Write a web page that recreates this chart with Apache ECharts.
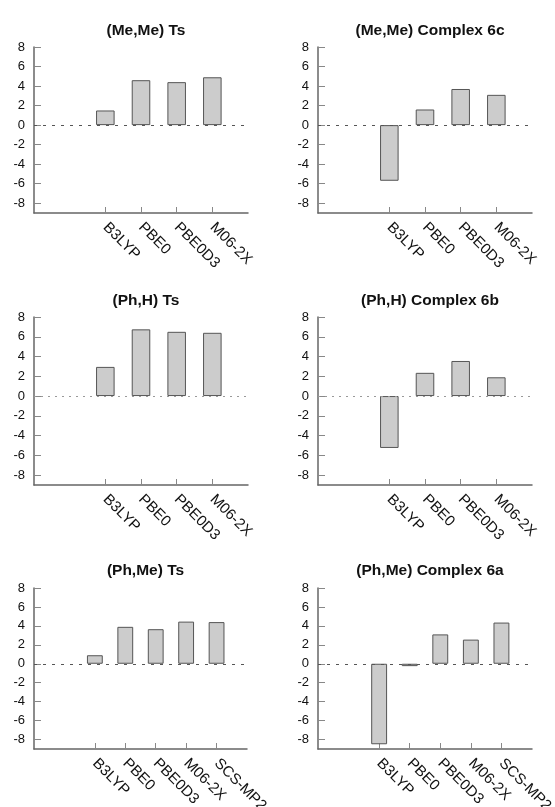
<!DOCTYPE html>
<html>
<head>
<meta charset="utf-8">
<script src="https://cdn.jsdelivr.net/npm/echarts@6/dist/echarts.min.js"></script>
<style>
html,body{margin:0;padding:0;background:#fff;}
#c{width:555px;height:807px;}
</style>
</head>
<body>
<div id="c"></div>
<script>
// Categories (empty slots are padding positions on the axis)
const catsShort = ['', '', 'B3LYP', 'PBE0', 'PBE0D3', 'M06-2X', ''];
const catsLong = ['', '', 'B3LYP', 'PBE0', 'PBE0D3', 'M06-2X', 'SCS-MP2', ''];
const titles = ['(Me,Me) Ts', '(Me,Me) Complex 6c', '(Ph,H) Ts', '(Ph,H) Complex 6b', '(Ph,Me) Ts', '(Ph,Me) Complex 6a'];
// Series values
const meMeTs = [null, null, 1.5, 4.6, 4.4, 4.9, null];
const meMe6c = [null, null, -5.7, 1.6, 3.7, 3.1, null];
const phHTs = [null, null, 2.95, 6.75, 6.5, 6.4, null];
const phH6b = [null, null, -5.25, 2.35, 3.55, 1.9, null];
const phMeTs = [null, null, 0.9, 3.9, 3.65, 4.45, 4.4, null];
const phMe6a = [null, null, -8.5, -0.25, 3.1, 2.55, 4.35, null];
// Tick labels
const yTicks = [-8, -6, -4, -2, 0, 2, 4, 6, 8];

const panels = [
  {cats: catsShort, data: meMeTs, left: 34, top: 47, width: 214, height: 166, ty: 26},
  {cats: catsShort, data: meMe6c, left: 318, top: 47, width: 214, height: 166, ty: 26},
  {cats: catsShort, data: phHTs, left: 34, top: 317, width: 214, height: 168, ty: 296},
  {cats: catsShort, data: phH6b, left: 318, top: 317, width: 214, height: 168, ty: 296},
  {cats: catsLong, data: phMeTs, left: 34, top: 588, width: 213, height: 161, ty: 566},
  {cats: catsLong, data: phMe6a, left: 318, top: 588, width: 214, height: 161, ty: 566}
];
const zeroStyles = [
  {color: '#555', type: [3, 6]}, {color: '#555', type: [3, 6]},
  {color: '#999', type: [2, 5]}, {color: '#999', type: [2, 5]},
  {color: '#555', type: [3, 6]}, {color: '#555', type: [3, 6]}
];
const font = 'Liberation Sans, Arial, Helvetica, sans-serif';

const option = {
  animation: false,
  backgroundColor: '#fff',
  title: panels.map((p, i) => ({
    text: titles[i],
    left: p.left + p.width / 2,
    top: p.ty,
    textAlign: 'center',
    textVerticalAlign: 'middle',
    textStyle: {fontFamily: font, fontSize: 15.5, fontWeight: 'bold', color: '#111'}
  })),
  grid: panels.map(p => ({left: p.left, top: p.top, width: p.width, height: p.height,
    containLabel: false, outerBoundsMode: 'none'})),
  xAxis: panels.map((p, i) => ({
    type: 'category',
    gridIndex: i,
    data: p.cats,
    boundaryGap: false,
    axisLine: {onZero: false, lineStyle: {color: '#666', width: 1.5}},
    axisTick: {inside: true, length: 6, lineStyle: {color: '#888', width: 1},
      interval: (idx, val) => val !== ''},
    axisLabel: {rotate: -45, margin: 12, fontFamily: font, fontSize: 15, color: '#111',
      interval: (idx, val) => val !== ''},
    splitLine: {show: false}
  })),
  yAxis: panels.map((p, i) => ({
    type: 'value',
    gridIndex: i,
    min: -9,
    max: 8,
    axisLine: {show: true, lineStyle: {color: '#666', width: 1.5}},
    axisTick: {show: true, inside: true, length: 7, customValues: yTicks, lineStyle: {color: '#888', width: 1}},
    axisLabel: {customValues: yTicks, margin: 9, fontFamily: font, fontSize: 13, color: '#111'},
    splitLine: {show: false}
  })),
  series: panels.map((p, i) => ({
    type: 'bar',
    xAxisIndex: i,
    yAxisIndex: i,
    data: p.data,
    barWidth: '52%',
    itemStyle: {color: '#cccccc', borderColor: '#555', borderWidth: 1},
    markLine: {
      silent: true,
      symbol: 'none',
      label: {show: false},
      lineStyle: {color: zeroStyles[i].color, type: zeroStyles[i].type, width: 1},
      data: [{yAxis: 0}]
    },
    z: 3
  }))
};

const chart = echarts.init(document.getElementById('c'), null, {renderer: 'canvas'});
chart.setOption(option);
</script>
</body>
</html>
